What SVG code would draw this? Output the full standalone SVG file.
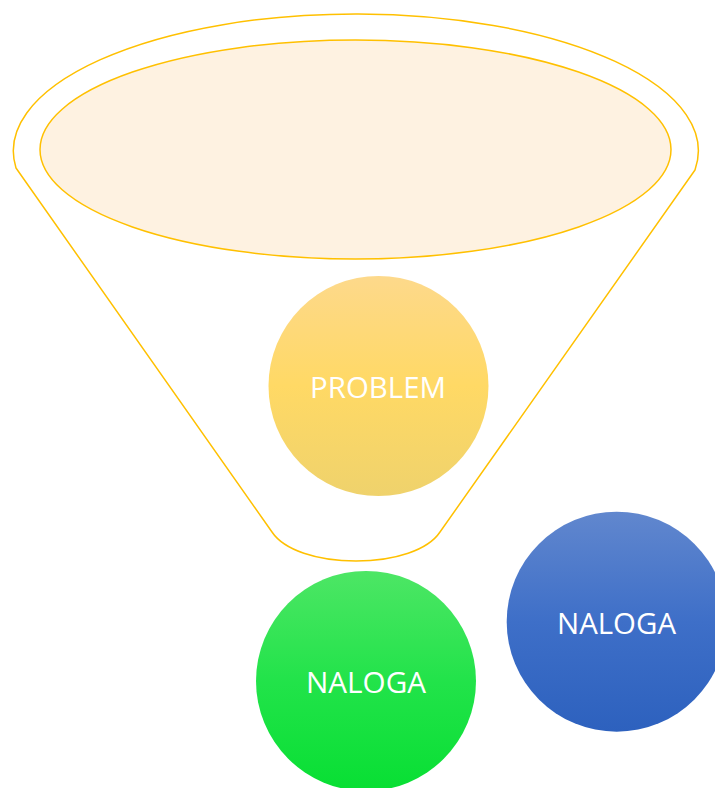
<svg xmlns="http://www.w3.org/2000/svg" width="715" height="788" viewBox="0 0 715 788">
  <style>
    .outline { fill: none; stroke: #FFC000; stroke-width: 1.5; stroke-linejoin: round; }
    .mouth { fill: #FEF2E1; stroke: #FFC000; stroke-width: 1.5; }
    .label { font-family: "Open Sans", "Liberation Sans", sans-serif; font-size: 30px; fill: #FFFFFF; text-anchor: middle; }
  </style>
  <defs>
    <linearGradient id="gradYellow" x1="0" y1="0" x2="0" y2="1">
      <stop offset="0" stop-color="#FDD98B"/>
      <stop offset="0.5" stop-color="#FFD965"/>
      <stop offset="1" stop-color="#EFD26C"/>
    </linearGradient>
    <linearGradient id="gradGreen" x1="0" y1="0" x2="0" y2="1">
      <stop offset="0" stop-color="#4DE665"/>
      <stop offset="0.5" stop-color="#22E34A"/>
      <stop offset="1" stop-color="#08DF33"/>
    </linearGradient>
    <linearGradient id="gradBlue" x1="0" y1="0" x2="0" y2="1">
      <stop offset="0" stop-color="#6187CE"/>
      <stop offset="0.5" stop-color="#3E6FC8"/>
      <stop offset="1" stop-color="#2D61BE"/>
    </linearGradient>
  </defs>

  <!-- funnel body with its rim and inner opening -->
  <g id="funnel">
    <path class="outline" d="M 16 168 A 342.5 137 0 1 1 695 170 L 440 532 C 428 550 395 561 356 561 C 317 561 284 550 272 532 Z"/>
    <ellipse class="mouth" cx="355.5" cy="149.5" rx="315.5" ry="109.5"/>
  </g>

  <g id="problem">
    <circle cx="378.5" cy="386" r="110" fill="url(#gradYellow)"/>
    <text class="label" x="378" y="398" textLength="136" lengthAdjust="spacingAndGlyphs">PROBLEM</text>
  </g>

  <g id="naloga-green">
    <circle cx="366" cy="681" r="110" fill="url(#gradGreen)"/>
    <text class="label" x="366" y="693" textLength="120" lengthAdjust="spacingAndGlyphs">NALOGA</text>
  </g>

  <g id="naloga-blue">
    <circle cx="616.7" cy="621.7" r="110" fill="url(#gradBlue)"/>
    <text class="label" x="616.5" y="634" textLength="119" lengthAdjust="spacingAndGlyphs">NALOGA</text>
  </g>
</svg>
